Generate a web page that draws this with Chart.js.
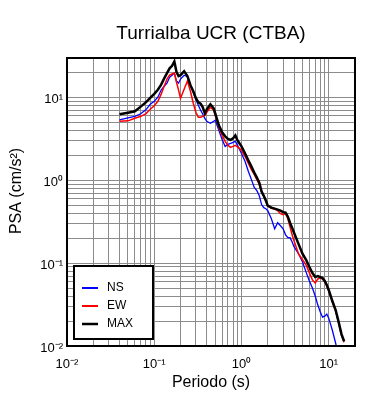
<!DOCTYPE html>
<html>
<head>
<meta charset="utf-8">
<script src="https://cdn.jsdelivr.net/npm/chart.js@4.4.1/dist/chart.umd.min.js"></script>
<style>
  html, body { margin: 0; padding: 0; background: #fff; }
  #wrap { width: 390px; height: 400px; }
</style>
</head>
<body>
<div id="wrap"><canvas id="psaChart" width="390" height="400"></canvas></div>
<script>
// ================= DATA =================
const periods = [
  0.04, 0.05, 0.06, 0.07, 0.08, 0.09, 0.1,
  0.11, 0.12, 0.13, 0.14, 0.15, 0.16, 0.17, 0.18, 0.19, 0.2,
  0.22, 0.24, 0.26, 0.28, 0.3, 0.32, 0.34, 0.36, 0.38, 0.4,
  0.44, 0.48, 0.5,
  0.55, 0.6, 0.65, 0.7, 0.75, 0.8, 0.85, 0.9, 0.95, 1.0,
  1.1, 1.2, 1.3, 1.4, 1.5, 1.6, 1.7, 1.8, 1.9, 2.0,
  2.2, 2.4, 2.6, 2.8, 3.0, 3.2, 3.4, 3.6, 3.8, 4.0,
  4.5, 5.0, 5.5, 6.0, 6.5, 7.0, 7.5, 8.0, 8.5, 9.0, 9.5, 10,
  11, 12, 13, 14, 15
];

const nsValues = [
  5.38, 5.69, 5.93, 6.36, 7.11, 8.30, 9.02,
  10.1, 12.3, 13.7, 14.9, 17.6, 18.6, 19.7, 15.8, 14.9, 16.7,
  18.6, 17.8, 14.0, 11.6, 9.54, 8.07, 7.02, 6.28, 5.61, 5.16,
  4.88, 5.16, 5.31,
  4.01, 3.12, 2.57, 2.72, 2.79, 2.87, 2.95, 2.64, 2.36, 2.11,
  1.69, 1.28, 1.02, 0.82, 0.75, 0.65, 0.51, 0.468, 0.455, 0.430,
  0.344, 0.260, 0.308, 0.283, 0.260, 0.220, 0.203, 0.203, 0.181, 0.158,
  0.130, 0.104, 0.078, 0.061, 0.0502, 0.0402, 0.0312, 0.0257, 0.0223, 0.0229, 0.0243, 0.0217,
  0.0155, 0.0108, 0.0075, 0.0055, 0.004
];

const ewValues = [
  5.16, 5.23, 5.61, 5.93, 6.36, 7.21, 7.96,
  9.02, 11.0, 13.7, 16.7, 18.6, 19.2, 19.7, 15.3, 12.3, 9.81,
  12.6, 15.8, 11.9, 8.53, 6.63, 5.77, 5.77, 5.93, 6.10, 6.63,
  7.63, 7.02, 6.10,
  4.36, 3.49, 2.95, 2.64, 2.50, 2.57, 2.64, 2.53, 2.43, 2.30,
  1.94, 1.60, 1.35, 1.18, 1.02, 0.89, 0.73, 0.64, 0.57, 0.49,
  0.46, 0.45, 0.43, 0.396, 0.385, 0.396, 0.344, 0.275, 0.220, 0.186,
  0.130, 0.110, 0.0953, 0.0763, 0.0628, 0.0577, 0.0645, 0.0664, 0.0645, 0.0595, 0.053, 0.0462,
  0.034, 0.0265, 0.0189, 0.0135, 0.0111
];

const maxValues = [
  6.28, 6.56, 6.82, 7.76, 8.72, 9.89, 11.06,
  12.4, 14.3, 17.0, 19.7, 22.5, 24.1, 27.2, 20.3, 18.1, 18.6,
  20.8, 18.1, 14.1, 11.9, 9.81, 8.77, 8.41, 7.63, 6.45, 7.21,
  8.30, 7.42, 6.45,
  4.62, 3.80, 3.40, 3.17, 3.08, 3.21, 3.49, 3.04, 2.79, 2.57,
  2.11, 1.74, 1.47, 1.24, 1.08, 0.94, 0.73, 0.65, 0.57, 0.495,
  0.468, 0.455, 0.443, 0.430, 0.413, 0.407, 0.364, 0.308, 0.268, 0.233,
  0.171, 0.130, 0.110, 0.090, 0.076, 0.068, 0.070, 0.068, 0.066, 0.061, 0.0546, 0.0475,
  0.0349, 0.0272, 0.0194, 0.0139, 0.0114
];

const decadeValues = [0.01, 0.1, 1, 10];
const decadeLabels = ["10⁻²", "10⁻¹", "10⁰", "10¹"];

const seriesNames = ["NS", "EW", "MAX"];
const seriesColors = ["#0000ff", "#ff0000", "#000000"];

// ================= HELPERS =================
const FONT = '"Liberation Sans", Arial, Helvetica, sans-serif';
Chart.defaults.font.family = FONT;
Chart.defaults.color = "#000";

// 1..9 x 10^n grid lines between min and max
function logGrid(min, max) {
  const out = [];
  for (let e = -3; e <= 3; e++) {
    for (let m = 1; m <= 9; m++) {
      const v = parseFloat((m * Math.pow(10, e)).toPrecision(6));
      if (v >= min * 0.9999 && v <= max * 1.0001) out.push(v);
    }
  }
  return out;
}

function decadeLabel(v) {
  const i = decadeValues.findIndex(d => Math.abs(v - d) / d < 1e-6);
  return i === -1 ? "" : decadeLabels[i];
}

const toPoints = vals => periods.map((t, i) => ({ x: t, y: vals[i] }));

// ================= FRAME + KEY =================
const frameAndKey = {
  id: "frameAndKey",
  afterDraw(chart) {
    const { ctx, chartArea: a } = chart;
    ctx.save();

    // axis frame
    ctx.strokeStyle = "#000";
    ctx.lineWidth = 2;
    ctx.strokeRect(a.left, a.top, a.right - a.left, a.bottom - a.top);

    // y title (drawn by hand, sits a bit above centre like the original)
    ctx.save();
    ctx.translate(17, 191);
    ctx.rotate(-Math.PI / 2);
    ctx.font = "16px " + FONT;
    ctx.fillStyle = "#000";
    ctx.textAlign = "center";
    ctx.textBaseline = "middle";
    ctx.fillText("PSA (cm/s²)", 0, 0);
    ctx.restore();

    // legend box
    const bx = a.left + 7, by = a.bottom - 80, bw = 79, bh = 73;
    ctx.fillStyle = "#fff";
    ctx.fillRect(bx, by, bw, bh);
    ctx.lineWidth = 2;
    ctx.strokeStyle = "#000";
    ctx.strokeRect(bx, by, bw, bh);

    ctx.font = "12px " + FONT;
    ctx.textAlign = "left";
    ctx.textBaseline = "middle";
    const rows = [22, 40, 58];
    seriesNames.forEach((name, i) => {
      const y = by + rows[i];
      ctx.strokeStyle = seriesColors[i];
      ctx.lineWidth = i === 2 ? 2.5 : 2;
      ctx.beginPath();
      ctx.moveTo(bx + 8, y);
      ctx.lineTo(bx + 24, y);
      ctx.stroke();
      ctx.fillStyle = "#000";
      ctx.fillText(name, bx + 33, y);
    });

    ctx.restore();
  }
};

// ================= CHART =================
const gridColor = "#8c8c8c";

new Chart(document.getElementById("psaChart"), {
  type: "line",
  data: {
    datasets: [
      {
        label: seriesNames[0],
        data: toPoints(nsValues),
        borderColor: seriesColors[0],
        borderWidth: 1.3,
        pointRadius: 0,
        tension: 0,
        order: 2
      },
      {
        label: seriesNames[1],
        data: toPoints(ewValues),
        borderColor: seriesColors[1],
        borderWidth: 1.5,
        pointRadius: 0,
        tension: 0,
        order: 1
      },
      {
        label: seriesNames[2],
        data: toPoints(maxValues),
        borderColor: seriesColors[2],
        borderWidth: 2.5,
        pointRadius: 0,
        tension: 0,
        order: 0
      }
    ]
  },
  options: {
    responsive: false,
    animation: false,
    devicePixelRatio: 1,
    layout: { padding: { left: 0, right: 35, top: 0, bottom: 0 } },
    plugins: {
      legend: { display: false },
      tooltip: { enabled: false },
      title: {
        display: true,
        fullSize: false,
        text: "Turrialba UCR (CTBA)",
        color: "#000",
        font: { size: 19, weight: "normal" },
        padding: { top: 22, bottom: 13.2 }
      }
    },
    scales: {
      x: {
        type: "logarithmic",
        min: 0.01,
        max: 20,
        afterBuildTicks: s => { s.ticks = logGrid(0.01, 20).map(v => ({ value: v })); },
        afterFit: s => { s.height = 54; },
        grid: { color: gridColor, lineWidth: 1, drawTicks: false },
        border: { display: false },
        ticks: {
          autoSkip: false,
          maxRotation: 0,
          padding: 11,
          font: { size: 13 },
          callback: v => decadeLabel(v)
        },
        title: {
          display: true,
          text: "Periodo (s)",
          font: { size: 16 },
          padding: { top: 0, bottom: 8 }
        }
      },
      y: {
        type: "logarithmic",
        min: 0.01,
        max: 30,
        afterBuildTicks: s => { s.ticks = logGrid(0.01, 30).map(v => ({ value: v })); },
        afterFit: s => { s.width = 67; },
        grid: { color: gridColor, lineWidth: 1, drawTicks: false },
        border: { display: false },
        ticks: {
          autoSkip: false,
          padding: 4,
          labelOffset: 2,
          font: { size: 13 },
          callback: v => decadeLabel(v)
        }
      }
    }
  },
  plugins: [frameAndKey]
});
</script>
</body>
</html>
